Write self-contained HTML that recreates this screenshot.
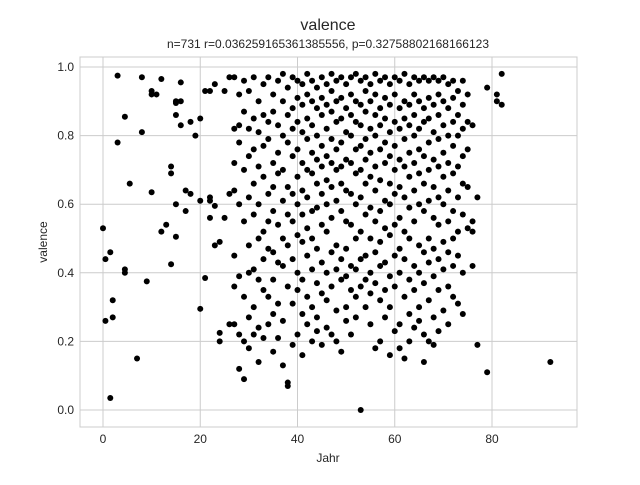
<!DOCTYPE html>
<html><head><meta charset="utf-8"><style>
body{margin:0;background:#fff;}
svg text{font-family:"Liberation Sans",sans-serif;fill:#262626;}
</style></head><body>
<svg id="chart" width="640" height="480" xmlns="http://www.w3.org/2000/svg">
<rect width="640" height="480" fill="#fff"/>
<text x="328" y="30" font-size="16" text-anchor="middle">valence</text>
<text x="328" y="48" font-size="12" text-anchor="middle">n=731 r=0.036259165361385556, p=0.32758802168166123</text>
<g id="grid"></g>
<g id="points"></g>
<rect x="80" y="57" width="497" height="370" fill="none" stroke="#ccc" stroke-width="1"/>
<g id="ticks"></g>
<text x="328" y="462" font-size="12" text-anchor="middle">Jahr</text>
<text transform="translate(47,242) rotate(-90)" font-size="12" text-anchor="middle">valence</text>
</svg>
<script>
const xTicks=[0,20,40,60,80];
const yTicks=[0.0,0.2,0.4,0.6,0.8,1.0];
const yTickLabels=["0.0","0.2","0.4","0.6","0.8","1.0"];
const colX=[0,0.5,1.5,2,3,4.5,5.5,7,8,9,10,11,12,13,14,15,16,17,18,19,20,21,22,23,24,25,26,
27,28,29,30,31,32,33,34,35,36,37,38,39,40,41,42,43,44,45,46,47,48,49,50,51,52,53,54,55,56,57,58,59,60,61,62,63,64,65,66,67,68,69,70,71,72,73,74,75,76,77,79,81,82,92];
const colY=[[0.53],[0.44,0.26],[0.46,0.035],[0.32,0.27],[0.975,0.78],[0.855,0.41,0.40],[0.66],[0.15],[0.97,0.81],[0.375],[0.93,0.635,0.92],[0.92],[0.52,0.965],[0.54],[0.71,0.69,0.425],[0.895,0.90,0.86,0.60,0.505],[0.955,0.90,0.83],[0.64,0.58],[0.63,0.84],[0.8],[0.295,0.61,0.85],[0.385,0.93],[0.62,0.61,0.93,0.56],[0.95,0.595,0.48],[0.225,0.2,0.49],[0.93,0.56],[0.25,0.63,0.97],
[0.97,0.82,0.72,0.64,0.45,0.25,0.36],[0.92,0.83,0.78,0.6,0.39,0.22,0.12],[0.96,0.87,0.7,0.55,0.33,0.09,0.2],[0.93,0.82,0.74,0.62,0.48,0.4,0.27,0.18],[0.97,0.85,0.76,0.66,0.57,0.41,0.3,0.22],[0.9,0.81,0.71,0.6,0.5,0.38,0.24,0.14],[0.95,0.86,0.77,0.68,0.52,0.44,0.35,0.21],[0.97,0.84,0.79,0.63,0.55,0.47,0.33,0.25],[0.92,0.87,0.72,0.65,0.58,0.46,0.38,0.28,0.17],[0.96,0.83,0.75,0.69,0.54,0.43,0.31,0.21],[0.98,0.9,0.8,0.7,0.61,0.5,0.42,0.26,0.13],[0.94,0.86,0.78,0.65,0.57,0.48,0.36,0.08,0.07],[0.97,0.88,0.82,0.74,0.63,0.55,0.44,0.31,0.19],[0.96,0.91,0.84,0.76,0.68,0.6,0.51,0.4,0.35,0.22],[0.95,0.89,0.81,0.72,0.64,0.57,0.49,0.38,0.28,0.16],[0.98,0.92,0.85,0.79,0.7,0.62,0.53,0.45,0.33,0.25],[0.96,0.9,0.83,0.75,0.69,0.58,0.5,0.41,0.3,0.2],[0.94,0.88,0.8,0.73,0.66,0.59,0.47,0.37,0.27,0.23],[0.97,0.91,0.86,0.77,0.71,0.63,0.54,0.43,0.34,0.19],[0.95,0.89,0.82,0.74,0.67,0.6,0.52,0.4,0.32,0.24],[0.98,0.93,0.87,0.79,0.72,0.65,0.56,0.46,0.36,0.22],[0.96,0.9,0.84,0.76,0.7,0.61,0.48,0.41,0.29,0.2],[0.97,0.91,0.85,0.78,0.71,0.66,0.58,0.44,0.38,0.17],[0.95,0.88,0.81,0.73,0.64,0.55,0.47,0.39,0.3,0.26],[0.97,0.92,0.86,0.8,0.72,0.63,0.54,0.42,0.35,0.22],[0.98,0.9,0.84,0.76,0.69,0.6,0.5,0.41,0.33,0.27],[0.96,0.89,0.83,0.77,0.7,0.62,0.52,0.44,0.0,0.36],[0.97,0.93,0.87,0.79,0.73,0.66,0.57,0.45,0.38,0.3],[0.95,0.9,0.82,0.75,0.68,0.59,0.5,0.4,0.34,0.25],[0.98,0.92,0.86,0.8,0.71,0.64,0.55,0.46,0.37,0.18],[0.96,0.88,0.83,0.76,0.67,0.58,0.49,0.42,0.32,0.2],[0.97,0.91,0.85,0.78,0.72,0.61,0.53,0.43,0.35,0.27],[0.95,0.89,0.81,0.74,0.66,0.6,0.51,0.39,0.3,0.16],[0.97,0.92,0.84,0.77,0.7,0.63,0.54,0.45,0.36,0.23],[0.96,0.88,0.82,0.73,0.65,0.56,0.47,0.4,0.25,0.18],[0.98,0.9,0.85,0.79,0.71,0.62,0.52,0.44,0.33,0.15],[0.95,0.89,0.83,0.75,0.68,0.59,0.5,0.38,0.28,0.2],[0.97,0.92,0.86,0.8,0.72,0.64,0.55,0.42,0.35,0.24],[0.96,0.9,0.82,0.76,0.69,0.6,0.48,0.4,0.3,0.26],[0.97,0.88,0.84,0.74,0.66,0.58,0.46,0.37,0.22,0.14],[0.96,0.91,0.85,0.78,0.7,0.61,0.5,0.43,0.32,0.2],[0.97,0.89,0.81,0.73,0.65,0.56,0.47,0.39,0.27,0.19],[0.96,0.92,0.86,0.79,0.71,0.62,0.54,0.44,0.35,0.23],[0.97,0.9,0.83,0.75,0.68,0.6,0.49,0.41,0.29],[0.95,0.88,0.8,0.72,0.64,0.55,0.46,0.36,0.25],[0.96,0.91,0.84,0.77,0.69,0.58,0.5,0.42,0.33],[0.93,0.86,0.8,0.71,0.62,0.52,0.45,0.31],[0.96,0.89,0.82,0.74,0.66,0.57,0.4,0.28],[0.92,0.84,0.76,0.65,0.53],[0.83,0.55,0.52,0.42],[0.62,0.19],[0.94,0.11],[0.90,0.92],[0.98,0.89],[0.14]];

const NS="http://www.w3.org/2000/svg";
const PL=80,PR=577,PT=57,PB=427;
function xs(v){return 103+v*(492-103)/80;}
function ys(v){return 410-v*343;}
const grid=document.getElementById('grid'),ticks=document.getElementById('ticks'),pts=document.getElementById('points');
xTicks.forEach(t=>{
  const l=document.createElementNS(NS,'line');
  
  
  l.setAttribute('x1',xs(t));l.setAttribute('x2',xs(t));l.setAttribute('y1',PT);l.setAttribute('y2',PB);
  l.setAttribute('stroke','#ccc');grid.appendChild(l);
  const tx=document.createElementNS(NS,'text');
  
  
  tx.setAttribute('x',xs(t));tx.setAttribute('y',PB+16);tx.setAttribute('font-size','12');tx.setAttribute('text-anchor','middle');
  tx.textContent=t;ticks.appendChild(tx);
});
yTicks.forEach((t,i)=>{
  const l=document.createElementNS(NS,'line');
  
  
  l.setAttribute('x1',PL);l.setAttribute('x2',PR);l.setAttribute('y1',ys(t));l.setAttribute('y2',ys(t));
  l.setAttribute('stroke','#ccc');grid.appendChild(l);
  const tx=document.createElementNS(NS,'text');
  
  
  tx.setAttribute('x',PL-6);tx.setAttribute('y',ys(t)+4);tx.setAttribute('font-size','12');tx.setAttribute('text-anchor','end');
  tx.textContent=yTickLabels[i];ticks.appendChild(tx);
});
colX.forEach((x,i)=>{
  colY[i].forEach(y=>{
    const c=document.createElementNS(NS,'circle');
    
    
    c.setAttribute('cx',xs(x));c.setAttribute('cy',ys(y));c.setAttribute('r','3');c.setAttribute('fill','#000');
    pts.appendChild(c);
  });
});
</script>
</body></html>
